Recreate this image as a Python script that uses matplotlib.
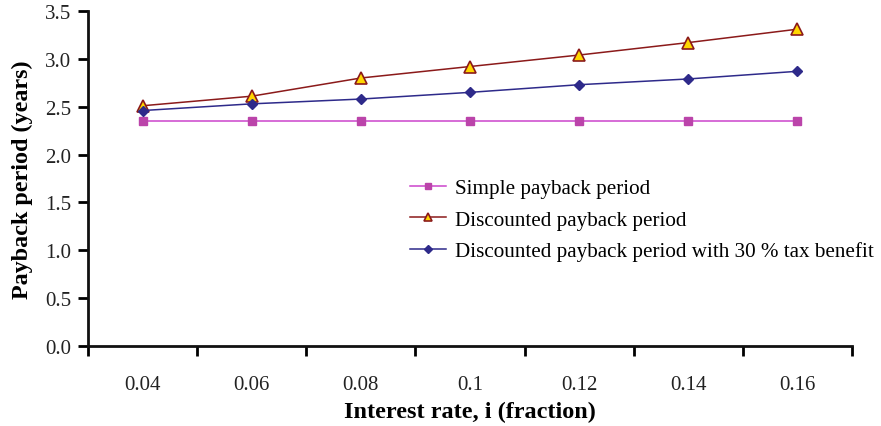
import matplotlib
matplotlib.use("Agg")
import matplotlib.pyplot as plt
import numpy as np

rates = ["0.04", "0.06", "0.08", "0.1", "0.12", "0.14", "0.16"]
simple = [2.35, 2.35, 2.35, 2.35, 2.35, 2.35, 2.35]
discounted = [2.51, 2.61, 2.80, 2.92, 3.04, 3.17, 3.31]
discounted_tax = [2.46, 2.53, 2.58, 2.65, 2.73, 2.79, 2.87]

plt.rcParams['font.family'] = ['Liberation Serif', 'DejaVu Serif']

fig = plt.figure(figsize=(8.81, 4.27), dpi=100)
ax = fig.add_axes([88/881, 80/427, (852-88)/881, (347-12)/427])

x = np.arange(len(rates))
ax.plot(x, simple, color='#CC44CC', lw=1.1, marker='s', ms=6,
        mfc='#BB44AA', mec='#BB44AA', label='Simple payback period')
ax.plot(x, discounted, color='#8B1A1A', lw=1.1, marker='^', ms=8,
        mfc='#FFD700', mec='#8B1A1A', mew=1.2, label='Discounted payback period')
ax.plot(x, discounted_tax, color='#2E2A8A', lw=1.1, marker='D', ms=5.5,
        mfc='#2E2A8A', mec='#2E2A8A',
        label='Discounted payback period with 30 % tax benefit')

ax.set_xlim(-0.5, len(rates) - 0.5)
ax.set_ylim(0, 3.5)
yt = np.arange(0, 3.51, 0.5)
ax.set_yticks(yt)
ax.set_yticklabels([f"{v:.1f}" for v in yt])

# category boundaries carry the tick marks, labels sit at the centres
ax.set_xticks(np.arange(-0.5, len(rates), 1.0))
ax.set_xticklabels([])
ax.set_xticks(x, minor=True)
ax.set_xticklabels(rates, minor=True)
ax.tick_params(axis='x', which='minor', length=0, pad=21, labelsize=15, colors='#222222')
ax.tick_params(axis='x', which='major', length=7, width=2, direction='out')
ax.tick_params(axis='y', length=7, width=2, direction='out', labelsize=15, pad=5,
               labelcolor='#222222')

for s in ['top', 'right']:
    ax.spines[s].set_visible(False)
for s in ['left', 'bottom']:
    ax.spines[s].set_linewidth(2)
    ax.spines[s].set_color('#111111')

ax.set_xlabel('Interest rate, i (fraction)', fontsize=17.5, fontweight='bold', labelpad=5)
ax.set_ylabel('Payback period (years)', fontsize=17.4, fontweight='bold', labelpad=9)

ax.legend(loc='upper left', bbox_to_anchor=(0.411, 0.525), frameon=False,
          fontsize=15.2, handlelength=1.7, handletextpad=0.4, labelspacing=0.55,
          borderaxespad=0, markerscale=0.8)

fig.savefig('out.png', dpi=100)
